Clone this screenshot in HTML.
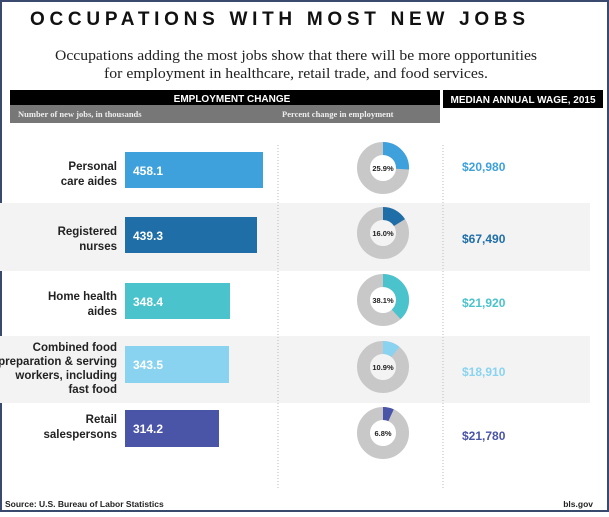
<!DOCTYPE html>
<html><head><meta charset="utf-8"><style>
body{margin:0;width:609px;height:512px;overflow:hidden;background:#fff;font-family:"Liberation Sans",sans-serif}
</style></head><body>
<svg width="609" height="512" xmlns="http://www.w3.org/2000/svg" font-family="Liberation Sans, sans-serif">
<rect x="0" y="0" width="609" height="512" fill="#fff"/>
<rect x="1" y="1" width="607" height="510" fill="none" stroke="#3a4a6e" stroke-width="2"/>
<text x="30" y="25" textLength="495" lengthAdjust="spacing" font-size="19" font-weight="bold" fill="#111">OCCUPATIONS WITH MOST NEW JOBS</text>
<text x="296" y="60" text-anchor="middle" textLength="482" lengthAdjust="spacingAndGlyphs" font-family="Liberation Serif, serif" font-size="15" fill="#222">Occupations adding the most jobs show that there will be more opportunities</text>
<text x="296" y="78" text-anchor="middle" textLength="384" lengthAdjust="spacingAndGlyphs" font-family="Liberation Serif, serif" font-size="15" fill="#222">for employment in healthcare, retail trade, and food services.</text>
<rect x="10" y="90" width="430" height="15" fill="#000"/>
<rect x="10" y="105" width="430" height="18" fill="#777"/>
<rect x="443" y="90" width="160" height="18" fill="#000"/>
<text x="232" y="102" text-anchor="middle" font-size="10" font-weight="bold" fill="#fff">EMPLOYMENT CHANGE</text>
<text x="523" y="103" text-anchor="middle" font-size="10" font-weight="bold" fill="#fff">MEDIAN ANNUAL WAGE, 2015</text>
<text x="18" y="117" font-family="Liberation Serif, serif" font-size="8.5" font-weight="bold" fill="#eee">Number of new jobs, in thousands</text>
<text x="282" y="117" font-family="Liberation Serif, serif" font-size="8.5" font-weight="bold" fill="#eee">Percent change in employment</text>
<rect x="0" y="203" width="590" height="68" fill="#f3f3f3"/>
<rect x="0" y="336" width="590" height="67" fill="#f3f3f3"/>
<line x1="278" y1="145" x2="278" y2="490" stroke="#bbb" stroke-dasharray="1,2"/>
<line x1="443" y1="145" x2="443" y2="490" stroke="#bbb" stroke-dasharray="1,2"/>
<g font-size="11.5" font-weight="bold" fill="#222" text-anchor="end">
<text x="117" y="170">Personal</text><text x="117" y="185">care aides</text>
<text x="117" y="235">Registered</text><text x="117" y="250">nurses</text>
<text x="117" y="300">Home health</text><text x="117" y="315">aides</text>
<text x="117" y="351">Combined food</text><text x="117" y="365">preparation &amp; serving</text><text x="117" y="379">workers, including</text><text x="117" y="393">fast food</text>
<text x="117" y="423">Retail</text><text x="117" y="438">salespersons</text>
</g>
<rect x="125" y="152" width="138" height="36" fill="#3ea1dc"/>
<rect x="125" y="217" width="132" height="36" fill="#1f6ea8"/>
<rect x="125" y="283" width="105" height="36" fill="#4bc3cc"/>
<rect x="125" y="346" width="104" height="37" fill="#8ad3f0"/>
<rect x="125" y="410" width="94" height="37" fill="#4a55a8"/>
<g font-size="12" font-weight="bold" fill="#fff">
<text x="133" y="175">458.1</text><text x="133" y="240">439.3</text><text x="133" y="306">348.4</text><text x="133" y="369">343.5</text><text x="133" y="433">314.2</text>
</g>
<g fill="none" stroke-width="13">
<circle cx="383" cy="168" r="19.5" stroke="#c8c8c8"/>
<circle cx="383" cy="168" r="19.5" stroke="#3ea1dc" stroke-dasharray="31.7 200" transform="rotate(-90 383 168)"/>
<circle cx="383" cy="233" r="19.5" stroke="#c8c8c8"/>
<circle cx="383" cy="233" r="19.5" stroke="#1f6ea8" stroke-dasharray="19.6 200" transform="rotate(-90 383 233)"/>
<circle cx="383" cy="300" r="19.5" stroke="#c8c8c8"/>
<circle cx="383" cy="300" r="19.5" stroke="#4bc3cc" stroke-dasharray="46.7 200" transform="rotate(-90 383 300)"/>
<circle cx="383" cy="367" r="19.5" stroke="#c8c8c8"/>
<circle cx="383" cy="367" r="19.5" stroke="#8ad3f0" stroke-dasharray="13.4 200" transform="rotate(-90 383 367)"/>
<circle cx="383" cy="433" r="19.5" stroke="#c8c8c8"/>
<circle cx="383" cy="433" r="19.5" stroke="#4a55a8" stroke-dasharray="8.3 200" transform="rotate(-90 383 433)"/>
</g>
<g font-size="7.5" font-weight="bold" fill="#222" text-anchor="middle">
<text x="383" y="171">25.9%</text><text x="383" y="236">16.0%</text><text x="383" y="303">38.1%</text><text x="383" y="370">10.9%</text><text x="383" y="436">6.8%</text>
</g>
<g font-size="12" font-weight="bold">
<text x="462" y="171" fill="#3ea1dc">$20,980</text>
<text x="462" y="243" fill="#1f6ea8">$67,490</text>
<text x="462" y="307" fill="#4bc3cc">$21,920</text>
<text x="462" y="376" fill="#8ad3f0">$18,910</text>
<text x="462" y="440" fill="#4a55a8">$21,780</text>
</g>
<text x="5" y="507" font-size="8.5" font-weight="bold" fill="#222">Source: U.S. Bureau of Labor Statistics</text>
<text x="593" y="507" text-anchor="end" font-size="8.5" font-weight="bold" fill="#222">bls.gov</text>
</svg>
</body></html>
